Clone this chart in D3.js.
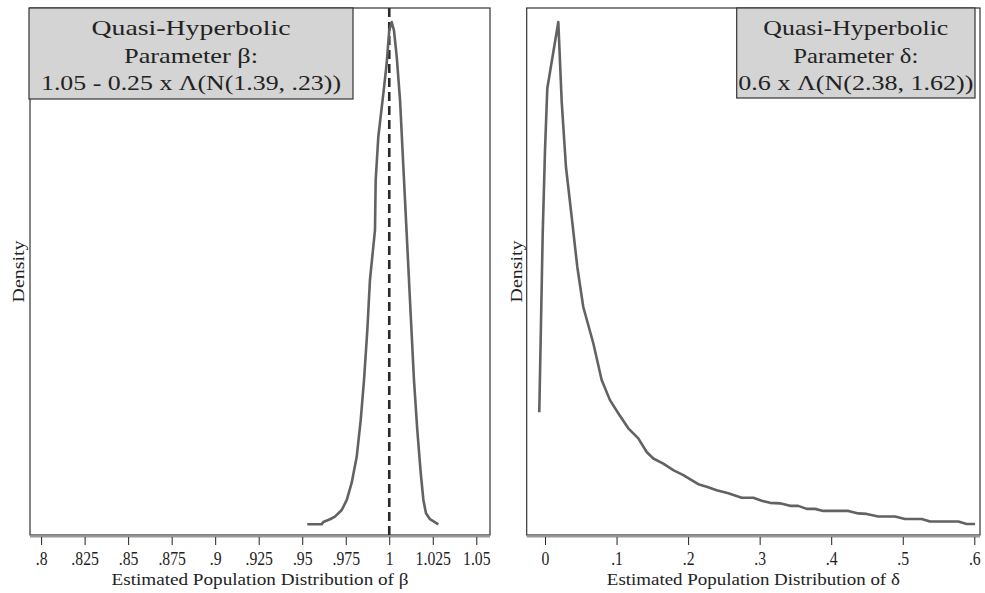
<!DOCTYPE html>
<html lang="en">
<head>
    <meta charset="UTF-8">
    <title>Quasi-Hyperbolic Parameter Distributions</title>
    <script src="https://cdnjs.cloudflare.com/ajax/libs/d3/7.8.5/d3.min.js"></script>
    <style>
        body {
            margin: 0;
            padding: 0;
            background: #fff;
        }
        svg text {
            font-family: "Liberation Serif", "DejaVu Serif", serif;
            fill: #222;
        }
        .frame {
            fill: none;
            stroke: #333;
            stroke-width: 1.2px;
        }
        .axis-line {
            stroke: #999;
            stroke-width: 2px;
        }
        .curve {
            fill: none;
            stroke: #626262;
            stroke-width: 2.6px;
            stroke-linejoin: round;
        }
        .refline {
            stroke: #2a2a2a;
            stroke-width: 2.6px;
            stroke-dasharray: 9 5;
        }
        .title-box {
            fill: #d4d4d4;
            stroke: #333;
            stroke-width: 1.2px;
        }
        .tick line {
            stroke: #222;
        }
    </style>
</head>
<body>
    <div id="chart"></div>
    <script>
        // beta panel: kernel density
        const betaX = [0.9529, 0.9612, 0.9621, 0.9660, 0.9688, 0.9727, 0.9756, 0.9784, 0.9813, 0.9836,
                       0.9855, 0.9874, 0.9889, 0.9918, 0.9922, 0.9937, 0.9966, 0.9985, 1.0000, 1.0014,
                       1.0027, 1.0043, 1.0062, 1.0081, 1.0100, 1.0119, 1.0142, 1.0161, 1.0181, 1.0196,
                       1.0211, 1.0234, 1.0282];
        const betaDensity = [0.12, 0.12, 0.28, 0.47, 0.65, 1.11, 1.81, 2.99, 4.81, 7.36,
                             10.14, 13.61, 17.08, 20.56, 24.03, 27.03, 30.05, 32.13, 34.44, 35.02,
                             34.44, 32.59, 29.58, 24.95, 20.35, 15.69, 10.14, 6.67, 3.66, 1.81,
                             0.88, 0.47, 0.12];
        const betaTicks = [0.8, 0.825, 0.85, 0.875, 0.9, 0.925, 0.95, 0.975, 1, 1.025, 1.05];
        const betaTickLabels = [".8", ".825", ".85", ".875", ".9", ".925", ".95", ".975", "1", "1.025", "1.05"];
        const betaRef = [1];
        const betaTitle = ["Quasi-Hyperbolic", "Parameter \u03B2:", "1.05 - 0.25 x \u039B(N(1.39, .23))"];

        // delta panel
        const deltaX = [-0.0080, -0.0032, 0.0000, 0.0032, 0.0186, 0.0233, 0.0293, 0.0373, 0.0451, 0.0535,
                        0.0675, 0.0792, 0.0908, 0.1024, 0.1164, 0.1304, 0.1421, 0.1514, 0.1653, 0.1793,
                        0.1933, 0.2143, 0.2260, 0.2400, 0.2562, 0.2749, 0.2911, 0.3029, 0.3145, 0.3284,
                        0.3424, 0.3540, 0.3658, 0.3774, 0.3890, 0.4239, 0.4379, 0.4496, 0.4658, 0.4892,
                        0.5031, 0.5265, 0.5381, 0.5776, 0.5893, 0.6010];
        const deltaDensity = [2.26, 5.81, 7.46, 8.69, 10.01, 8.44, 7.13, 6.14, 5.15, 4.35,
                              3.63, 2.90, 2.50, 2.24, 1.94, 1.74, 1.47, 1.34, 1.24, 1.11,
                              1.01, 0.83, 0.78, 0.71, 0.65, 0.56, 0.56, 0.50, 0.46, 0.45,
                              0.40, 0.40, 0.34, 0.34, 0.30, 0.30, 0.25, 0.24, 0.19, 0.19,
                              0.14, 0.14, 0.09, 0.09, 0.04, 0.04];
        const deltaTicks = [0, 0.1, 0.2, 0.3, 0.4, 0.5, 0.6];
        const deltaTickLabels = ["0", ".1", ".2", ".3", ".4", ".5", ".6"];
        const deltaTitle = ["Quasi-Hyperbolic", "Parameter \u03B4:", "0.6 x \u039B(N(2.38, 1.62))"];

        const W = 985, H = 593;

        const svg = d3.select("#chart").append("svg")
            .attr("width", W)
            .attr("height", H);

        const panels = [
            {
                frame: { left: 30, right: 490, top: 8, bottom: 535 },
                xDomain: [0.8, 1.05], xRange: [41.1, 476.3],
                yTop: 22, yBottom: 526,
                xs: betaX, ys: betaDensity,
                ticks: betaTicks, labels: betaTickLabels,
                refs: betaRef,
                title: betaTitle, titleWidths: [199, 134, 300], titleSize: 22,
                box: { x: 29, y: 8, w: 324, h: 91 },
                xTitle: "Estimated Population Distribution of \u03B2", xTitleWidth: 297,
                densityX: 24
            },
            {
                frame: { left: 526.7, right: 980, top: 8, bottom: 535 },
                xDomain: [0, 0.6], xRange: [545, 974.3],
                yTop: 22, yBottom: 526,
                xs: deltaX, ys: deltaDensity,
                ticks: deltaTicks, labels: deltaTickLabels,
                refs: [],
                title: deltaTitle, titleWidths: [185, 125, 235], titleSize: 21,
                box: { x: 736.7, y: 8, w: 238.3, h: 90 },
                xTitle: "Estimated Population Distribution of \u03B4", xTitleWidth: 293,
                densityX: 522
            }
        ];

        panels.forEach(p => {
            const g = svg.append("g");
            const f = p.frame;

            const x = d3.scaleLinear().domain(p.xDomain).range(p.xRange);
            const y = d3.scaleLinear().domain([0, d3.max(p.ys)]).range([p.yBottom, p.yTop]);

            // plot region
            g.append("rect")
                .attr("class", "frame")
                .attr("x", f.left)
                .attr("y", f.top)
                .attr("width", f.right - f.left)
                .attr("height", f.bottom - f.top);

            // reference line(s)
            g.selectAll(".refline")
                .data(p.refs)
                .enter().append("line")
                .attr("class", "refline")
                .attr("x1", d => x(d)).attr("x2", d => x(d))
                .attr("y1", f.top).attr("y2", f.bottom);

            // density curve
            const pts = p.xs.map((v, i) => [v, p.ys[i]]);
            g.append("path")
                .datum(pts)
                .attr("class", "curve")
                .attr("d", d3.line().x(d => x(d[0])).y(d => y(d[1])));

            // x axis
            g.append("line")
                .attr("class", "axis-line")
                .attr("x1", f.left).attr("x2", f.right)
                .attr("y1", f.bottom + 1.5).attr("y2", f.bottom + 1.5);

            const axis = d3.axisBottom(x)
                .tickValues(p.ticks)
                .tickFormat((d, i) => p.labels[i])
                .tickSize(8)
                .tickPadding(7);

            const ax = g.append("g")
                .attr("transform", `translate(0,${f.bottom + 2})`)
                .call(axis);
            ax.select(".domain").remove();
            ax.selectAll(".tick text")
                .attr("fill", "#222")
                .attr("transform", "scale(0.85,1)")
                .style("font-family", "'Liberation Serif', serif")
                .style("font-size", "18.5px");

            g.append("text")
                .attr("x", (f.left + f.right) / 2)
                .attr("y", 585)
                .attr("text-anchor", "middle")
                .attr("textLength", p.xTitleWidth)
                .attr("lengthAdjust", "spacingAndGlyphs")
                .style("font-size", "17px")
                .text(p.xTitle);

            // y title (no ticks in the original)
            g.append("text")
                .attr("transform", `translate(${p.densityX},${(f.top + f.bottom) / 2}) rotate(-90)`)
                .attr("text-anchor", "middle")
                .attr("textLength", 62)
                .attr("lengthAdjust", "spacingAndGlyphs")
                .style("font-size", "16px")
                .text("Density");

            // parameter box
            const b = p.box;
            g.append("rect")
                .attr("class", "title-box")
                .attr("x", b.x).attr("y", b.y)
                .attr("width", b.w).attr("height", b.h);

            g.selectAll(".title-line")
                .data(p.title)
                .enter().append("text")
                .attr("class", "title-line")
                .attr("x", b.x + b.w / 2)
                .attr("y", (d, i) => b.y + 27 + i * 27.5)
                .attr("text-anchor", "middle")
                .attr("textLength", (d, i) => p.titleWidths[i])
                .attr("lengthAdjust", "spacingAndGlyphs")
                .style("font-size", p.titleSize + "px")
                .text(d => d);
        });
    </script>
</body>
</html>
